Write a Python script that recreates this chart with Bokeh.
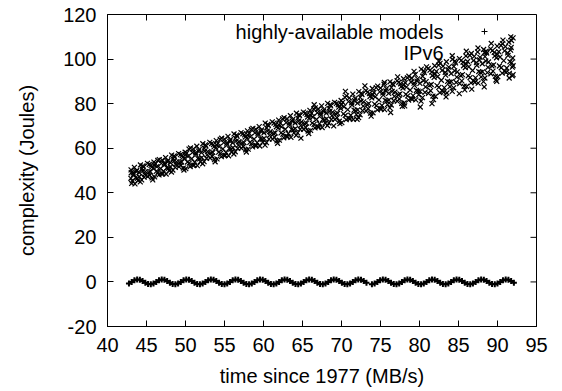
import math
from bokeh.plotting import figure
from bokeh.models import Range1d, FixedTicker, Label
from bokeh.embed import file_html
from bokeh.resources import INLINE

# ---------------- data ----------------
x_ticks = [40, 45, 50, 55, 60, 65, 70, 75, 80, 85, 90, 95]
y_ticks = [-20, 0, 20, 40, 60, 80, 100, 120]

series_names = ["highly-available models", "IPv6"]

wave_x = [
    42.75,
    43.10, 43.45, 43.80, 44.15, 44.50, 44.85, 45.20, 45.55, 45.90,
    46.25, 46.60, 46.95, 47.30, 47.65, 48.00, 48.35, 48.70, 49.05,
    49.40, 49.75, 50.10, 50.45, 50.80, 51.15, 51.50, 51.85, 52.20,
    52.55, 52.90, 53.25, 53.60, 53.95, 54.30, 54.65, 55.00, 55.35,
    55.70, 56.05, 56.40, 56.75, 57.10, 57.45, 57.80, 58.15, 58.50,
    58.85, 59.20, 59.55, 59.90, 60.25, 60.60, 60.95, 61.30, 61.65,
    62.00, 62.35, 62.70, 63.05, 63.40, 63.75, 64.10, 64.45, 64.80,
    65.15, 65.50, 65.85, 66.20, 66.55, 66.90, 67.25, 67.60, 67.95,
    68.30, 68.65, 69.00, 69.35, 69.70, 70.05, 70.40, 70.75, 71.10,
    71.45, 71.80, 72.15, 72.50, 72.85, 73.20, 73.90, 74.25,
    74.60, 74.95, 75.30, 75.65, 76.00, 76.35, 76.70, 77.05, 77.40,
    77.75, 78.10, 78.45, 78.80, 79.15, 79.50, 79.85, 80.20, 80.55,
    80.90, 81.25, 81.60, 81.95, 82.30, 82.65, 83.00, 83.35, 83.70,
    84.05, 84.40, 84.75, 85.10, 85.45, 85.80, 86.15, 86.50, 86.85,
    87.20, 87.55, 87.90, 88.25, 88.60, 88.95, 89.30, 89.65, 90.00,
    90.35, 90.70, 91.05, 91.40, 91.75, 92.10,
]
wave_y = [
    -0.71,
    0.0, 0.71, 1.08, 0.95, 0.38, -0.38, -0.95, -1.08, -0.71,
    0.0, 0.71, 1.08, 0.95, 0.38, -0.38, -0.95, -1.08, -0.71,
    0.0, 0.71, 1.08, 0.95, 0.38, -0.38, -0.95, -1.08, -0.71,
    0.0, 0.71, 1.08, 0.95, 0.38, -0.38, -0.95, -1.08, -0.71,
    0.0, 0.71, 1.08, 0.95, 0.38, -0.38, -0.95, -1.08, -0.71,
    0.0, 0.71, 1.08, 0.95, 0.38, -0.38, -0.95, -1.08, -0.71,
    0.0, 0.71, 1.08, 0.95, 0.38, -0.38, -0.95, -1.08, -0.71,
    0.0, 0.71, 1.08, 0.95, 0.38, -0.38, -0.95, -1.08, -0.71,
    0.0, 0.71, 1.08, 0.95, 0.38, -0.38, -0.95, -1.08, -0.71,
    0.0, 0.71, 1.08, 0.95, 0.38, -0.38, -1.08, -0.71,
    0.0, 0.71, 1.08, 0.95, 0.38, -0.38, -0.95, -1.08, -0.71,
    0.0, 0.71, 1.08, 0.95, 0.38, -0.38, -0.95, -1.08, -0.71,
    0.0, 0.71, 1.08, 0.95, 0.38, -0.38, -0.95, -1.08, -0.71,
    0.0, 0.71, 1.08, 0.95, 0.38, -0.38, -0.95, -1.08, -0.71,
    0.0, 0.71, 1.08, 0.95, 0.38, -0.38, -0.95, -1.08, -0.71,
    0.0, 0.71, 1.08, 0.95, 0.38, -0.38,
]

ipv6_x = [
    43.0, 43.05,
    43.1, 43.3, 43.45, 43.6, 43.75, 43.9,
    44.05, 44.2, 44.4, 44.55, 44.7, 44.85,
    45.15, 45.35, 45.5, 45.65, 45.8, 45.95,
    46.0, 46.25, 46.45, 46.6, 46.8, 46.9,
    47.1, 47.3, 47.45, 47.6, 47.75, 47.9,
    48.05, 48.2, 48.4, 48.55, 48.7, 48.85,
    49.15, 49.35, 49.5, 49.65, 49.8, 49.95,
    50.0, 50.25, 50.45, 50.6, 50.8, 50.9,
    51.1, 51.3, 51.45, 51.6, 51.75, 51.9,
    52.05, 52.2, 52.4, 52.55, 52.7, 52.85,
    53.15, 53.35, 53.5, 53.65, 53.8, 53.95,
    54.0, 54.25, 54.45, 54.6, 54.8, 54.9,
    55.1, 55.3, 55.45, 55.6, 55.75, 55.9,
    56.05, 56.2, 56.4, 56.55, 56.7, 56.85,
    57.15, 57.35, 57.5, 57.65, 57.8, 57.95,
    58.0, 58.25, 58.45, 58.6, 58.8, 58.9,
    59.1, 59.3, 59.45, 59.6, 59.75, 59.9,
    60.05, 60.2, 60.4, 60.55, 60.7, 60.85,
    61.15, 61.35, 61.5, 61.65, 61.8, 61.95,
    62.0, 62.25, 62.45, 62.6, 62.8, 62.9,
    63.1, 63.3, 63.45, 63.6, 63.75, 63.9,
    64.05, 64.2, 64.4, 64.55, 64.7, 64.85,
    65.15, 65.35, 65.5, 65.65, 65.8, 65.95,
    66.0, 66.25, 66.45, 66.6, 66.8, 66.9,
    67.1, 67.3, 67.45, 67.6, 67.75, 67.9,
    68.05, 68.2, 68.4, 68.55, 68.7, 68.85,
    69.15, 69.35, 69.5, 69.65, 69.8, 69.95,
    70.0, 70.25, 70.45, 70.6, 70.8, 70.9,
    71.1, 71.3, 71.45, 71.6, 71.75, 71.9,
    72.05, 72.2, 72.4, 72.55, 72.7, 72.85,
    73.15, 73.35, 73.5, 73.65, 73.8, 73.95,
    74.0, 74.25, 74.45, 74.6, 74.8, 74.9,
    75.1, 75.3, 75.45, 75.6, 75.75, 75.9,
    76.05, 76.2, 76.4, 76.55, 76.7, 76.85,
    77.15, 77.35, 77.5, 77.65, 77.8, 77.95,
    78.0, 78.25, 78.45, 78.6, 78.8, 78.9,
    79.1, 79.3, 79.45, 79.6, 79.75, 79.9,
    80.05, 80.2, 80.4, 80.55, 80.7, 80.85,
    81.15, 81.35, 81.5, 81.65, 81.8, 81.95,
    82.0, 82.25, 82.45, 82.6, 82.8, 82.9,
    83.1, 83.3, 83.45, 83.6, 83.75, 83.9,
    84.05, 84.2, 84.4, 84.55, 84.7, 84.85,
    85.15, 85.35, 85.5, 85.65, 85.8, 85.95,
    86.0, 86.25, 86.45, 86.6, 86.8, 86.9,
    87.1, 87.3, 87.45, 87.6, 87.75, 87.9,
    88.05, 88.2, 88.4, 88.55, 88.7, 88.85,
    89.15, 89.35, 89.5, 89.65, 89.8, 89.95,
    90.0, 90.25, 90.45, 90.6, 90.8, 90.9,
    91.1, 91.3, 91.45, 91.6, 91.75, 91.9,
    92.0, 91.8, 92.0, 91.95, 92.0,
    # second pass
    43.02, 43.18, 43.35, 43.52, 43.68, 43.82,
    44.08, 44.22, 44.38, 44.5, 44.62, 44.78,
    45.12, 45.28, 45.42, 45.58, 45.72, 45.88,
    46.04, 46.16, 46.32, 46.48, 46.64, 46.96,
    47.02, 47.18, 47.35, 47.52, 47.68, 47.82,
    48.08, 48.22, 48.38, 48.5, 48.62, 48.78,
    49.12, 49.28, 49.42, 49.58, 49.72, 49.88,
    50.04, 50.16, 50.32, 50.48, 50.64, 50.96,
    51.02, 51.18, 51.35, 51.52, 51.68, 51.82,
    52.08, 52.22, 52.38, 52.5, 52.62, 52.78,
    53.12, 53.28, 53.42, 53.58, 53.72, 53.88,
    54.04, 54.16, 54.32, 54.48, 54.64, 54.96,
    55.02, 55.18, 55.35, 55.52, 55.68, 55.82,
    56.08, 56.22, 56.38, 56.5, 56.62, 56.78,
    57.12, 57.28, 57.42, 57.58, 57.72, 57.88,
    58.04, 58.16, 58.32, 58.48, 58.64, 58.96,
    59.02, 59.18, 59.35, 59.52, 59.68, 59.82,
    60.08, 60.22, 60.38, 60.5, 60.62, 60.78,
    61.12, 61.28, 61.42, 61.58, 61.72, 61.88,
    62.04, 62.16, 62.32, 62.48, 62.64, 62.96,
    63.02, 63.18, 63.35, 63.52, 63.68, 63.82,
    64.08, 64.22, 64.38, 64.5, 64.62, 64.78,
    65.12, 65.28, 65.42, 65.58, 65.72, 65.88,
    66.04, 66.16, 66.32, 66.48, 66.64, 66.96,
    67.02, 67.18, 67.35, 67.52, 67.68, 67.82,
    68.08, 68.22, 68.38, 68.5, 68.62, 68.78,
    69.12, 69.28, 69.42, 69.58, 69.72, 69.88,
    70.04, 70.16, 70.32, 70.48, 70.64, 70.96,
    71.02, 71.18, 71.35, 71.52, 71.68, 71.82,
    72.08, 72.22, 72.38, 72.5, 72.62, 72.78,
    73.12, 73.28, 73.42, 73.58, 73.72, 73.88,
    74.04, 74.16, 74.32, 74.48, 74.64, 74.96,
    75.02, 75.18, 75.35, 75.52, 75.68, 75.82,
    76.08, 76.22, 76.38, 76.5, 76.62, 76.78,
    77.12, 77.28, 77.42, 77.58, 77.72, 77.88,
    78.04, 78.16, 78.32, 78.48, 78.64, 78.96,
    79.02, 79.18, 79.35, 79.52, 79.68, 79.82,
    80.08, 80.22, 80.38, 80.5, 80.62, 80.78,
    81.12, 81.28, 81.42, 81.58, 81.72, 81.88,
    82.04, 82.16, 82.32, 82.48, 82.64, 82.96,
    83.02, 83.18, 83.35, 83.52, 83.68, 83.82,
    84.08, 84.22, 84.38, 84.5, 84.62, 84.78,
    85.12, 85.28, 85.42, 85.58, 85.72, 85.88,
    86.04, 86.16, 86.32, 86.48, 86.64, 86.96,
    87.02, 87.18, 87.35, 87.52, 87.68, 87.82,
    88.08, 88.22, 88.38, 88.5, 88.62, 88.78,
    89.12, 89.28, 89.42, 89.58, 89.72, 89.88,
    90.04, 90.16, 90.32, 90.48, 90.64, 90.96,
    91.02, 91.18, 91.35, 91.52, 91.68, 91.82,
    # edge points
    64.8, 66.5, 69.0, 70.5, 72.0, 73.0, 75.5, 76.3, 77.2, 78.1,
    79.3, 80.1, 80.9, 81.6, 82.5, 83.4, 84.2, 85.1, 86.0, 86.7,
    87.5, 88.3, 89.2, 89.9, 90.7, 91.5, 91.9, 91.7,
]
ipv6_y = [
    46.5, 49.0,
    44.2, 48.9, 51.4, 46.8, 50.1, 45.5,
    49.1, 44.9, 50.8, 52.1, 47.0, 49.5,
    47.3, 52.7, 49.4, 51.5, 45.8, 53.8,
    52.4, 49.6, 54.5, 48.0, 50.9, 53.2,
    48.6, 53.3, 55.8, 51.2, 54.5, 49.9,
    53.5, 49.3, 55.2, 56.5, 51.4, 53.9,
    51.7, 57.1, 53.8, 55.9, 50.2, 58.2,
    57.1, 53.8, 59.6, 51.8, 55.3, 58.1,
    52.4, 57.9, 60.9, 55.4, 59.4, 53.9,
    58.0, 53.0, 60.0, 61.5, 55.5, 58.5,
    55.6, 62.1, 58.1, 60.6, 53.9, 63.4,
    61.5, 58.2, 64.0, 56.2, 59.7, 62.5,
    56.8, 62.3, 65.3, 59.8, 63.8, 58.3,
    62.4, 57.4, 64.4, 65.9, 59.9, 62.9,
    60.0, 66.5, 62.5, 65.0, 58.3, 67.8,
    65.9, 62.6, 68.4, 60.6, 64.1, 66.9,
    61.2, 66.7, 69.7, 64.2, 68.2, 62.7,
    66.9, 61.4, 69.1, 70.7, 64.1, 67.4,
    64.1, 71.3, 66.9, 69.6, 62.2, 72.6,
    70.4, 66.9, 73.2, 64.7, 68.5, 71.5,
    65.2, 71.3, 74.6, 68.5, 72.9, 66.9,
    71.3, 65.8, 73.5, 75.1, 68.5, 71.8,
    68.5, 75.7, 71.3, 74.0, 66.6, 77.0,
    74.8, 71.3, 77.6, 69.1, 72.9, 75.9,
    69.6, 75.7, 79.0, 72.9, 77.3, 71.3,
    75.7, 70.2, 77.9, 79.5, 72.9, 76.2,
    72.9, 80.1, 75.7, 78.4, 71.0, 81.4,
    79.6, 75.4, 82.8, 72.8, 77.3, 80.9,
    73.2, 80.4, 84.3, 77.1, 82.3, 75.2,
    80.2, 73.7, 82.8, 84.7, 76.9, 80.8,
    76.7, 85.2, 80.0, 83.2, 74.4, 86.8,
    84.0, 79.8, 87.2, 77.2, 81.7, 85.3,
    77.6, 84.8, 88.7, 81.5, 86.7, 79.6,
    84.6, 78.1, 87.2, 89.1, 81.3, 85.2,
    81.1, 89.6, 84.4, 87.6, 78.8, 91.2,
    88.4, 84.2, 91.6, 81.6, 86.1, 89.7,
    82.0, 89.2, 93.1, 85.9, 91.1, 84.0,
    89.1, 81.1, 92.3, 94.7, 85.1, 89.9,
    84.6, 95.0, 88.6, 92.6, 81.8, 97.0,
    93.3, 88.1, 97.3, 84.9, 90.5, 94.9,
    85.2, 94.0, 98.8, 90.0, 96.4, 87.6,
    93.5, 85.5, 96.7, 99.1, 89.5, 94.3,
    89.0, 99.4, 93.0, 97.0, 86.2, 101.4,
    97.7, 92.5, 101.7, 89.3, 94.9, 99.3,
    89.6, 98.4, 103.2, 94.4, 100.8, 92.0,
    97.9, 89.9, 101.1, 103.5, 93.9, 98.7,
    93.4, 103.8, 97.4, 101.4, 90.6, 105.8,
    102.1, 96.9, 106.1, 93.7, 99.3, 103.7,
    94.0, 102.8, 107.6, 98.8, 105.2, 96.4,
    109.5, 108.3, 93.0, 100.5, 97.0,
    # second pass
    50.3, 45.3, 48.2, 44.0, 49.5, 46.5,
    47.2, 52.5, 45.8, 49.8, 51.6, 48.3,
    53.2, 49.2, 47.9, 52.3, 46.7, 51.1,
    47.1, 53.0, 51.7, 49.2, 54.9, 48.4,
    54.7, 49.7, 52.6, 48.4, 53.9, 51.0,
    51.6, 56.9, 50.2, 54.2, 56.0, 52.7,
    57.6, 53.6, 52.3, 56.7, 51.1, 55.5,
    50.8, 57.8, 56.3, 53.3, 60.1, 52.3,
    59.7, 53.7, 57.2, 52.2, 58.7, 55.2,
    55.8, 62.0, 54.0, 58.8, 61.0, 57.0,
    62.6, 57.9, 56.4, 61.6, 54.9, 60.1,
    55.2, 62.2, 60.7, 57.7, 64.5, 56.7,
    64.1, 58.1, 61.6, 56.6, 63.1, 59.6,
    60.2, 66.4, 58.4, 63.2, 65.4, 61.4,
    67.0, 62.3, 60.8, 66.0, 59.3, 64.5,
    59.6, 66.6, 65.1, 62.1, 68.9, 61.1,
    68.5, 62.5, 66.0, 61.0, 67.5, 64.0,
    64.4, 71.3, 62.5, 67.7, 70.2, 65.8,
    71.8, 66.6, 64.9, 70.7, 63.3, 69.1,
    63.6, 71.3, 69.6, 66.3, 73.7, 65.2,
    73.2, 66.6, 70.4, 64.9, 72.1, 68.2,
    68.8, 75.7, 66.9, 72.1, 74.6, 70.2,
    76.2, 71.0, 69.3, 75.1, 67.7, 73.5,
    68.0, 75.7, 74.0, 70.7, 78.1, 69.6,
    77.6, 71.0, 74.8, 69.3, 76.5, 72.6,
    73.2, 80.1, 71.3, 76.5, 79.0, 74.6,
    80.6, 75.4, 73.7, 79.5, 72.1, 77.9,
    71.5, 80.6, 78.6, 74.7, 83.5, 73.4,
    82.6, 74.8, 79.4, 72.9, 81.3, 76.8,
    77.2, 85.4, 75.0, 81.1, 84.1, 78.9,
    85.8, 79.6, 77.7, 84.5, 75.7, 82.6,
    75.9, 85.0, 83.0, 79.1, 87.9, 77.8,
    87.0, 79.2, 83.8, 77.3, 85.7, 81.2,
    81.6, 89.8, 79.4, 85.5, 88.5, 83.3,
    90.2, 84.0, 82.1, 88.9, 80.1, 87.0,
    80.3, 89.4, 87.4, 83.5, 92.3, 82.2,
    91.4, 83.6, 88.2, 81.7, 90.1, 85.6,
    85.5, 95.5, 82.7, 90.3, 93.9, 87.5,
    95.8, 88.2, 85.8, 94.2, 83.4, 91.8,
    83.3, 94.5, 92.1, 87.3, 98.1, 85.7,
    96.8, 87.2, 92.8, 84.8, 95.2, 89.6,
    89.9, 99.9, 87.1, 94.7, 98.3, 91.9,
    100.2, 92.6, 90.2, 98.6, 87.8, 96.2,
    87.7, 98.9, 96.5, 91.7, 102.5, 90.1,
    101.2, 91.6, 97.2, 89.2, 99.6, 94.0,
    94.3, 104.3, 91.5, 99.1, 102.7, 96.3,
    104.6, 97.0, 94.6, 103.0, 92.2, 100.6,
    92.1, 103.3, 100.9, 96.1, 106.9, 94.5,
    105.6, 96.0, 101.6, 93.6, 104.0, 98.4,
    # edge points
    64.5, 79.5, 70.0, 85.5, 73.0, 88.0, 89.5, 76.0, 92.0, 79.0,
    94.5, 78.5, 96.5, 80.0, 99.0, 83.0, 101.5, 84.5, 103.5, 86.5,
    105.0, 87.5, 107.0, 90.0, 108.5, 91.5, 92.5, 110.0,
]

# ---------------- layout ----------------
FONT = "Liberation Sans"
FS = "20px"
X0, X1 = x_ticks[0], x_ticks[-1]
Y0, Y1 = y_ticks[0], y_ticks[-1]
FRAME_W, FRAME_H = 429, 312

p = figure(width=562, height=391,
           min_border_left=107, min_border_right=26,
           min_border_top=14, min_border_bottom=65,
           x_range=Range1d(X0, X1), y_range=Range1d(Y0, Y1),
           output_backend="svg", toolbar_location=None,
           x_axis_label="time since 1977 (MB/s)",
           y_axis_label="complexity (Joules)")

p.grid.visible = False
p.background_fill_color = "white"
p.border_fill_color = "white"
p.outline_line_color = "black"
p.outline_line_width = 1
p.outline_line_alpha = 1.0

def style_axis(ax, ticks):
    ax.ticker = FixedTicker(ticks=ticks)
    ax.major_label_overrides = {t: str(t) for t in ticks}   # plain hyphen minus
    ax.major_tick_in = 6
    ax.major_tick_out = 0
    ax.minor_tick_line_color = None
    ax.axis_line_color = "black"
    ax.major_tick_line_color = "black"
    ax.major_label_text_font = FONT
    ax.major_label_text_font_size = FS
    ax.major_label_text_color = "black"
    ax.axis_label_text_font = FONT
    ax.axis_label_text_font_size = FS
    ax.axis_label_text_font_style = "normal"
    ax.axis_label_text_color = "black"

style_axis(p.xaxis[0], x_ticks)
style_axis(p.yaxis[0], y_ticks)
p.xaxis[0].major_label_standoff = 11
p.xaxis[0].axis_label_standoff = 10
p.yaxis[0].major_label_standoff = 11
p.yaxis[0].axis_label_standoff = 22

# mirrored (inward) tick marks on the top and right edges
p.ray(x=x_ticks, y=[Y1] * len(x_ticks), length=6, length_units="screen",
      angle=-math.pi / 2, line_color="black", line_width=1)
p.ray(x=[X1] * len(y_ticks), y=y_ticks, length=6, length_units="screen",
      angle=math.pi, line_color="black", line_width=1)

# ---------------- data marks ----------------
p.scatter(wave_x, wave_y, marker="cross", size=6,
          line_color="black", line_width=2)
p.scatter(ipv6_x, ipv6_y, marker="x", size=7,
          line_color="black", line_width=1.2)

# ---------------- gnuplot-style key (text right-aligned, sample to its right) ----------------
KEY_TEXT_RIGHT = 336          # px from frame left
KEY_SAMPLE_X = 377            # px from frame left
KEY_ROWS = [295, 274]         # px from frame bottom
for name, row in zip(series_names, KEY_ROWS):
    p.add_layout(Label(x=KEY_TEXT_RIGHT, y=row, x_units="screen", y_units="screen",
                       text=name, text_align="right", text_baseline="middle",
                       text_font=FONT, text_font_size=FS, text_color="black"))

key_x = X0 + KEY_SAMPLE_X / FRAME_W * (X1 - X0)
key_y = [Y0 + r / FRAME_H * (Y1 - Y0) for r in KEY_ROWS]
p.scatter([key_x], [key_y[0]], marker="cross", size=6, line_color="black", line_width=1)
p.scatter([key_x], [key_y[1]], marker="x", size=7, line_color="black", line_width=1.2)

open("out.html", "w").write(file_html(p, INLINE))
